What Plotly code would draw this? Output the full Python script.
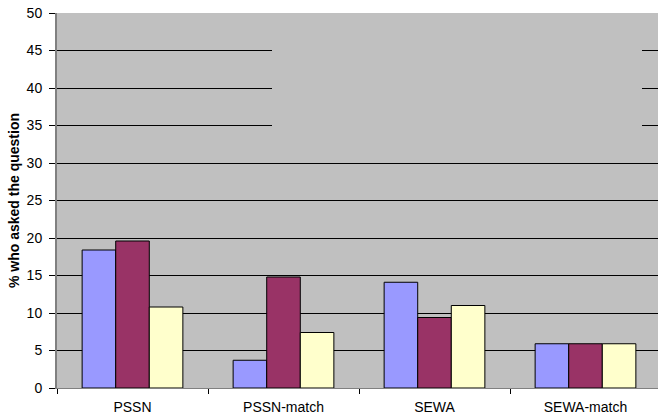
import plotly.graph_objects as go

categories = ["PSSN", "PSSN-match", "SEWA", "SEWA-match"]
series_a = [18.4, 3.7, 14.1, 5.9]
series_b = [19.6, 14.8, 9.4, 5.9]
series_c = [10.8, 7.4, 11.0, 5.9]
colors = ["#9999FF", "#993366", "#FFFFCC"]
y_ticks = [0, 5, 10, 15, 20, 25, 30, 35, 40, 45, 50]

fig = go.Figure()
for vals, col in zip([series_a, series_b, series_c], colors):
    fig.add_trace(go.Bar(x=categories, y=vals, marker=dict(color=col, line=dict(color="black", width=1)),
                         showlegend=False))

W, H = 658, 420
L, T, B = 57, 13, 32
plot_w = W - L
cat_w = 151.0
x_end = -0.5 + plot_w / cat_w

fig.update_layout(
    width=W, height=H,
    margin=dict(l=L, r=0, t=T, b=B, pad=0),
    paper_bgcolor="white",
    plot_bgcolor="#C0C0C0",
    barmode="group",
    bargap=0.333,
    bargroupgap=0,
    font=dict(family="Liberation Sans, Arial, sans-serif", size=13, color="black"),
    xaxis=dict(
        type="category",
        range=[-0.5, x_end],
        tickson="boundaries",
        ticks="outside", ticklen=5, tickcolor="black", tickwidth=1,
        showgrid=False,
        showline=True, linecolor="#808080", linewidth=1,
        tickfont=dict(size=14),
        ticklabelstandoff=6,
        zeroline=False,
    ),
    yaxis=dict(
        range=[0, 50],
        tickvals=y_ticks,
        ticks="outside", ticklen=6, tickcolor="black", tickwidth=1,
        showgrid=True, gridcolor="black", gridwidth=1,
        showline=True, linecolor="#808080", linewidth=2,
        zeroline=False,
        tickfont=dict(size=14),
        ticklabelstandoff=4,
        title=dict(text="<b>% who asked the question</b>", font=dict(size=14), standoff=4),
    ),
)

# area where gridlines are hidden (legend box region in the original)
fig.add_shape(type="rect", xref="paper", yref="y",
              x0=(272 - L) / plot_w, x1=(642 - L) / plot_w, y0=33, y1=47.5,
              fillcolor="#C0C0C0", line=dict(width=0), layer="above")

fig.write_html("out.html")
